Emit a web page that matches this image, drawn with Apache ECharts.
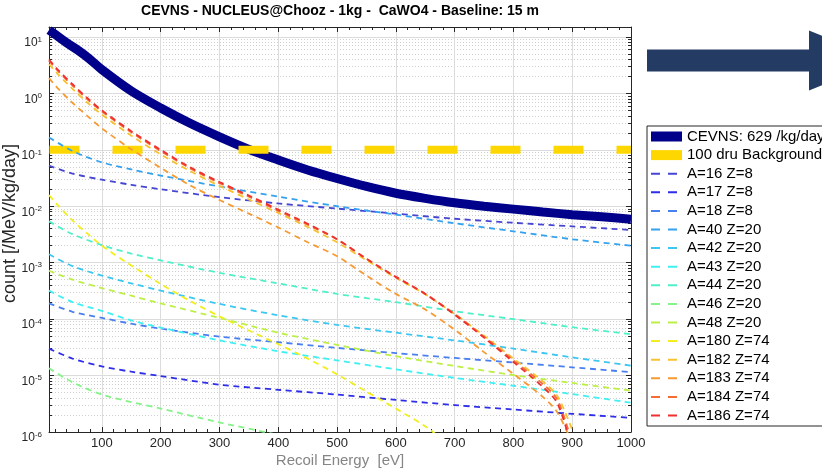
<!DOCTYPE html>
<html><head><meta charset="utf-8">
<script src="https://cdn.jsdelivr.net/npm/echarts@6/dist/echarts.min.js"></script>
<style>html,body{margin:0;padding:0;background:#fff}#c{width:822px;height:469px}</style>
</head><body><div id="c"></div>
<script>
// ---------------- data ----------------
const xMin = 10, xMax = 1000;
const yMin = 1e-6, yMax = 15;
const xTicks = [100, 200, 300, 400, 500, 600, 700, 800, 900, 1000];
const xMinorTicks = [20, 40, 60, 80, 120, 140, 160, 180, 220, 240, 260, 280, 320, 340, 360, 380,
  420, 440, 460, 480, 520, 540, 560, 580, 620, 640, 660, 680, 720, 740, 760, 780,
  820, 840, 860, 880, 920, 940, 960, 980];
const yDecades = [1e-6, 1e-5, 1e-4, 1e-3, 1e-2, 1e-1, 1];
const yMinorSteps = [2, 3, 4, 5, 6, 7, 8, 9];

const energyCEVNS = [10, 20, 40, 60, 80, 100, 150, 200, 250, 300, 350, 400, 450, 500, 550, 600, 650, 700, 750, 800, 850, 900, 950, 1000];
const cevns = [13.2, 11.2, 7.9, 5.75, 4.0, 2.63, 1.10, 0.55, 0.295, 0.17, 0.102, 0.066, 0.044, 0.031, 0.0224, 0.017, 0.0138, 0.0115, 0.010, 0.0089, 0.0079, 0.0071, 0.0065, 0.0059];

const energyBkg = [10, 1000];
const background = [0.1, 0.1];

const energyLight = [10, 50, 100, 150, 200, 300, 400, 500, 600, 700, 800, 900, 1000];
const a16 = [0.0525, 0.038, 0.0295, 0.024, 0.020, 0.0145, 0.0112, 0.0091, 0.0074, 0.0060, 0.0051, 0.0044, 0.0038];
const a17 = [3.0e-5, 2.0e-5, 1.45e-5, 1.17e-5, 9.8e-6, 6.9e-6, 5.6e-6, 4.6e-6, 3.7e-6, 3.0e-6, 2.5e-6, 2.1e-6, 1.78e-6];
const a18 = [1.9e-4, 1.35e-4, 1.05e-4, 8.3e-5, 6.8e-5, 4.9e-5, 3.9e-5, 3.1e-5, 2.5e-5, 2.05e-5, 1.7e-5, 1.4e-5, 1.15e-5];
const a40 = [0.166, 0.095, 0.060, 0.045, 0.035, 0.0224, 0.0148, 0.010, 0.0071, 0.0050, 0.0036, 0.0026, 0.0020];
const a42 = [1.41e-3, 8.7e-4, 5.9e-4, 4.3e-4, 3.2e-4, 1.86e-4, 1.17e-4, 7.9e-5, 5.75e-5, 4.2e-5, 3.0e-5, 2.1e-5, 1.5e-5];
const a43 = [3.2e-4, 2.0e-4, 1.4e-4, 9.5e-5, 7.1e-5, 4.2e-5, 2.7e-5, 1.86e-5, 1.29e-5, 9.1e-6, 6.6e-6, 4.7e-6, 3.3e-6];
const a44 = [5.4e-3, 3.2e-3, 2.05e-3, 1.45e-3, 1.1e-3, 6.6e-4, 4.3e-4, 2.8e-4, 2.0e-4, 1.38e-4, 1.0e-4, 7.2e-5, 5.4e-5];
const a46 = [1.35e-5, 7.6e-6, 4.6e-6, 3.4e-6, 2.6e-6, 1.48e-6, 8.9e-7, null, null, null, null, null, null];
const a48 = [7.2e-4, 5.0e-4, 3.55e-4, 2.6e-4, 1.9e-4, 1.05e-4, 5.75e-5, 3.5e-5, 2.2e-5, 1.48e-5, 1.02e-5, 7.4e-6, 5.4e-6];

const energyW = [10, 25, 50, 75, 100, 150, 200, 250, 300, 350, 400, 450, 500, 550, 600, 650, 700, 750, 800, 850, 875, 900];
const a180 = [0.0158, 0.0105, 0.0056, 0.0033, 0.0020, 8.9e-4, 4.2e-4, 2.1e-4, 1.12e-4, 6.3e-5, 3.6e-5, 2.0e-5, 1.05e-5, 5.2e-6, 2.6e-6, 1.26e-6, 5.0e-7, null, null, null, null, null];
const a182 = [3.3, 2.2, 1.2, 0.69, 0.42, 0.178, 0.083, 0.042, 0.023, 0.0132, 0.0076, 0.0043, 0.0023, 0.0011, 5.4e-4, 2.75e-4, 1.23e-4, 5.1e-5, 2.0e-5, 7.9e-6, 4.3e-6, 1.1e-6];
const a183 = [1.86, 1.23, 0.68, 0.40, 0.24, 0.102, 0.048, 0.0234, 0.0129, 0.0074, 0.0042, 0.0023, 0.0013, 5.9e-4, 2.8e-4, 1.48e-4, 6.5e-5, 2.6e-5, 1.07e-5, 4.2e-6, 2.2e-6, 6.3e-7];
const a184 = [3.8, 2.5, 1.38, 0.79, 0.48, 0.204, 0.095, 0.047, 0.0257, 0.0148, 0.0083, 0.0047, 0.0026, 0.00117, 5.6e-4, 2.8e-4, 1.23e-4, 4.9e-5, 1.86e-5, 7.1e-6, 3.7e-6, 6.3e-7];
const a186 = [3.98, 2.63, 1.45, 0.83, 0.50, 0.214, 0.100, 0.049, 0.0269, 0.0155, 0.0087, 0.0049, 0.0026, 0.00117, 5.6e-4, 2.8e-4, 1.2e-4, 4.7e-5, 1.74e-5, 6.3e-6, 3.2e-6, 5.0e-7];

const seriesNames = ['CEVNS: 629 /kg/day', '100 dru Background', 'A=16 Z=8', 'A=17 Z=8', 'A=18 Z=8',
  'A=40 Z=20', 'A=42 Z=20', 'A=43 Z=20', 'A=44 Z=20', 'A=46 Z=20', 'A=48 Z=20',
  'A=180 Z=74', 'A=182 Z=74', 'A=183 Z=74', 'A=184 Z=74', 'A=186 Z=74'];
const seriesColors = ['#00008b', '#ffd700', '#4646d2', '#2e2ee8', '#4a7ff0',
  '#35a2f0', '#3cc6f2', '#3ff0f2', '#4ef0c8', '#86f28a', '#bdf045',
  '#f2ee1e', '#f7c232', '#f79a32', '#f76c32', '#ef3030'];

// ---------------- chart ----------------
const FONT = '"Liberation Sans", Arial, Helvetica, sans-serif';
const AX = '#262626';
const yMinorTicks = [];
yDecades.forEach(d => yMinorSteps.forEach(m => { const v = +(d * m).toPrecision(3); if (v < yMax) yMinorTicks.push(v); }));

function pairs(xs, ys) {
  const out = [];
  xs.forEach((x, i) => { if (ys[i] !== null && ys[i] !== undefined) out.push([x, ys[i]]); });
  return out;
}
const DASH = [6, 4.5];
function iso(idx, xs, ys) {
  return {
    type: 'line', name: seriesNames[idx], data: pairs(xs, ys), showSymbol: false, symbol: 'none',
    smooth: 0.3, clip: true, silent: true,
    lineStyle: { color: seriesColors[idx], width: 1.8, type: DASH, cap: 'butt' },
    itemStyle: { color: seriesColors[idx] }
  };
}

const chart = echarts.init(document.getElementById('c'), null, { renderer: 'canvas' });

const xBase = { type: 'value', min: xMin, max: xMax, gridIndex: 0 };
const yBase = { type: 'log', logBase: 10, min: yMin, max: yMax, gridIndex: 0 };
const tickStyle = { color: AX, width: 1 };

const dashIcon = 'path://M0,0L31,0L31,0Z M0,4H9V6H0Z M17,4H26V6H17Z M0,10L31,10L31,10Z';
const legendData = seriesNames.map((n, i) => ({
  name: n,
  icon: i < 2 ? 'rect' : dashIcon,
  itemStyle: { color: seriesColors[i], borderWidth: 0 }
}));

chart.setOption({
  animation: false,
  backgroundColor: '#ffffff',
  title: {
    text: 'CEVNS - NUCLEUS@Chooz - 1kg -  CaWO4 - Baseline: 15 m',
    left: 340, top: 4, padding: 0, textAlign: 'center',
    textStyle: { fontFamily: FONT, fontSize: 14, fontWeight: 'bold', color: '#000' }
  },
  grid: { left: 49, top: 27, width: 582, height: 405, containLabel: false, outerBoundsMode: 'none', show: false },
  legend: {
    orient: 'vertical', left: 647, top: 126, padding: [3, 6, 3, 4],
    itemWidth: 31, itemHeight: 10, itemGap: 3.6, selectedMode: false,
    borderColor: AX, borderWidth: 1, backgroundColor: '#ffffff',
    textStyle: { fontFamily: FONT, fontSize: 15, lineHeight: 15, color: '#000' },
    itemStyle: { borderWidth: 0 },
    data: legendData
  },
  xAxis: [
    Object.assign({}, xBase, {
      position: 'bottom',
      name: 'Recoil Energy  [eV]', nameLocation: 'middle', nameGap: 21, nameMoveOverlap: false,
      nameTextStyle: { fontFamily: FONT, fontSize: 15, color: '#858585' },
      axisLine: { show: true, onZero: false, lineStyle: { color: AX, width: 1 } },
      axisTick: { show: true, inside: true, length: 5, customValues: xTicks, lineStyle: tickStyle },
      axisLabel: { show: true, customValues: xTicks, margin: 5, fontFamily: FONT, fontSize: 13, color: AX,
        formatter: v => String(v) },
      splitLine: { show: true, lineStyle: { color: '#dcdcdc', width: 1 } }
    }),
    Object.assign({}, xBase, {
      position: 'bottom',
      axisLine: { show: false },
      axisTick: { show: true, inside: true, length: 3, customValues: xMinorTicks, lineStyle: tickStyle },
      axisLabel: { show: false }, splitLine: { show: false }
    }),
    Object.assign({}, xBase, {
      position: 'top',
      axisLine: { show: true, onZero: false, lineStyle: { color: AX, width: 1 } },
      axisTick: { show: true, inside: true, length: 5, customValues: xTicks, lineStyle: tickStyle },
      axisLabel: { show: false }, splitLine: { show: false }
    }),
    Object.assign({}, xBase, {
      position: 'top',
      axisLine: { show: false },
      axisTick: { show: true, inside: true, length: 3, customValues: xMinorTicks, lineStyle: tickStyle },
      axisLabel: { show: false }, splitLine: { show: false }
    })
  ],
  yAxis: [
    Object.assign({}, yBase, {
      position: 'left',
      name: 'count [/MeV/kg/day]', nameLocation: 'middle', nameGap: 30, nameRotate: 90, nameMoveOverlap: false,
      nameTextStyle: { fontFamily: FONT, fontSize: 18, color: AX, padding: [0, 0, 0, 12] },
      axisLine: { show: true, onZero: false, lineStyle: { color: AX, width: 1 } },
      axisTick: { show: true, inside: true, length: 5, lineStyle: tickStyle },
      axisLabel: {
        show: true, margin: 7, showMaxLabel: false, padding: [12, 0, 0, 0],
        formatter: function (v) {
          const e = Math.log10(v);
          const r = Math.round(e);
          if (Math.abs(e - r) > 1e-6) return '';
          return '{b|10}{e|' + r + '}';
        },
        rich: {
          b: { fontFamily: FONT, fontSize: 12, color: AX },
          e: { fontFamily: FONT, fontSize: 8, color: AX, padding: [0, 0, 7, 0] }
        }
      },
      splitLine: { show: true, lineStyle: { color: '#dcdcdc', width: 1 } }
    }),
    Object.assign({}, yBase, {
      position: 'left',
      axisLine: { show: false },
      axisTick: { show: true, inside: true, length: 3, customValues: yMinorTicks, lineStyle: tickStyle },
      axisLabel: { show: false },
      splitLine: { show: true, lineStyle: { color: '#cfcfcf', width: 1, type: [1, 2] } }
    }),
    Object.assign({}, yBase, {
      position: 'right',
      axisLine: { show: true, onZero: false, lineStyle: { color: AX, width: 1 } },
      axisTick: { show: true, inside: true, length: 5, lineStyle: tickStyle },
      axisLabel: { show: false }, splitLine: { show: false }
    }),
    Object.assign({}, yBase, {
      position: 'right',
      axisLine: { show: false },
      axisTick: { show: true, inside: true, length: 3, customValues: yMinorTicks, lineStyle: tickStyle },
      axisLabel: { show: false }, splitLine: { show: false }
    })
  ],
  graphic: [{
    type: 'polygon', silent: true,
    shape: { points: [[647, 49.5], [809, 49.5], [809, 30.5], [884, 60.5], [809, 90.5], [809, 71.5], [647, 71.5]] },
    style: { fill: '#243b63' }
  }],
  series: [
    {
      type: 'line', name: seriesNames[0], data: pairs(energyCEVNS, cevns), showSymbol: false, symbol: 'none',
      smooth: 0.3, clip: true, silent: true,
      lineStyle: { color: seriesColors[0], width: 9, cap: 'butt' }, itemStyle: { color: seriesColors[0] }
    },
    {
      type: 'line', name: seriesNames[1], data: pairs(energyBkg, background), showSymbol: false, symbol: 'none',
      clip: true, silent: true,
      lineStyle: { color: seriesColors[1], width: 8, type: [30, 33], dashOffset: 62.5, cap: 'butt' },
      itemStyle: { color: seriesColors[1] }
    },
    iso(2, energyLight, a16),
    iso(3, energyLight, a17),
    iso(4, energyLight, a18),
    iso(5, energyLight, a40),
    iso(6, energyLight, a42),
    iso(7, energyLight, a43),
    iso(8, energyLight, a44),
    iso(9, energyLight, a46),
    iso(10, energyLight, a48),
    iso(11, energyW, a180),
    iso(12, energyW, a182),
    iso(13, energyW, a183),
    iso(14, energyW, a184),
    iso(15, energyW, a186)
  ]
});
</script>
</body></html>
